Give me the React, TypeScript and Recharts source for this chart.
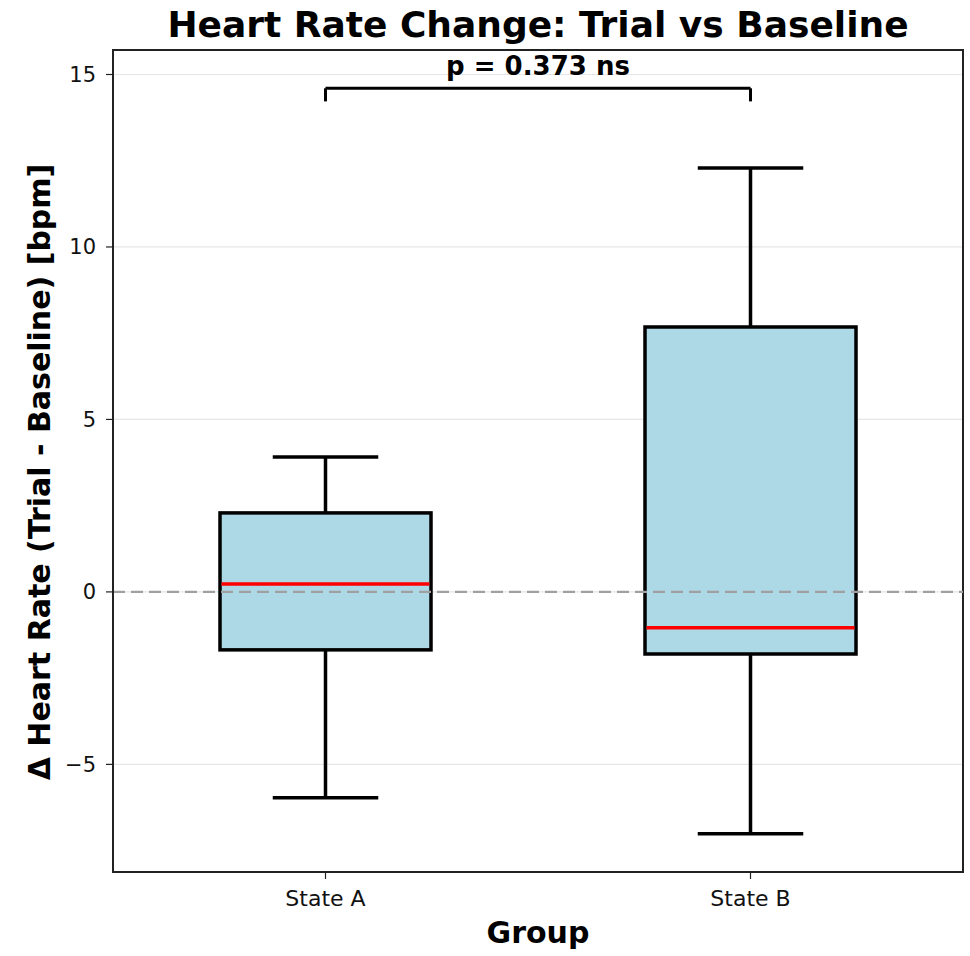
import {
  Bar,
  CartesianGrid,
  ComposedChart,
  ReferenceArea,
  ReferenceLine,
  XAxis,
  YAxis,
} from "recharts";

const groups = ["State A", "State B"];
const whiskerLow = [-5.97, -7.01];
const q1 = [-1.68, -1.8];
const medians = [0.23, -1.04];
const q3 = [2.29, 7.68];
const whiskerHigh = [3.91, 12.29];

const yTicks = [-5, 0, 5, 10, 15];
const yDomain: [number, number] = [-8.12, 15.71];
const bracketY = 14.6;
const bracketDrop = 0.38;
const pLabel = "p = 0.373 ns";

const boxData = groups.map((g, i) => ({
  group: g,
  range: [whiskerLow[i], whiskerHigh[i]],
  low: whiskerLow[i],
  q1: q1[i],
  median: medians[i],
  q3: q3[i],
  high: whiskerHigh[i],
}));

const font = "'DejaVu Sans', sans-serif";

const BoxShape = (props: any) => {
  const { x, y, width, height, payload } = props;
  const { low, q1, median, q3, high } = payload;
  const k = height / (high - low);
  const py = (v: number) => y + (high - v) * k;
  const cx = x + width / 2;
  const capHalf = width / 4;
  const sw = 3.5;
  return (
    <g>
      <line x1={cx} x2={cx} y1={py(high)} y2={py(q3)} stroke="#000" strokeWidth={sw} />
      <line x1={cx} x2={cx} y1={py(q1)} y2={py(low)} stroke="#000" strokeWidth={sw} />
      <line x1={cx - capHalf} x2={cx + capHalf} y1={py(high)} y2={py(high)} stroke="#000" strokeWidth={sw} />
      <line x1={cx - capHalf} x2={cx + capHalf} y1={py(low)} y2={py(low)} stroke="#000" strokeWidth={sw} />
      <rect
        x={x}
        y={py(q3)}
        width={width}
        height={py(q1) - py(q3)}
        fill="#add8e6"
        stroke="#000"
        strokeWidth={sw}
      />
      <line x1={x + 1.5} x2={x + width - 1.5} y1={py(median)} y2={py(median)} stroke="#ff0000" strokeWidth={sw} />
    </g>
  );
};

const fmt = (v: number) => (v < 0 ? `\u2212${Math.abs(v)}` : `${v}`);

const YLabel = () => (
  <text
    x={39}
    y={472}
    transform="rotate(-90 39 472)"
    textAnchor="middle"
    dominantBaseline="central"
    fill="#000"
    fontSize={30}
    fontWeight="bold"
    fontFamily={font}
  >
    {"\u0394 Heart Rate (Trial - Baseline) [bpm]"}
  </text>
);

const XLabel = () => (
  <text
    x={538}
    y={943}
    textAnchor="middle"
    fill="#000"
    fontSize={30}
    fontWeight="bold"
    fontFamily={font}
  >
    Group
  </text>
);

export default function App() {
  return (
    <div
      style={{
        position: "fixed",
        left: 0,
        top: 0,
        width: 970,
        height: 956,
        background: "#fff",
        fontFamily: font,
      }}
    >
      <div
        style={{
          position: "absolute",
          left: 113,
          width: 850,
          top: 7,
          lineHeight: 1,
          textAlign: "center",
          fontSize: 36,
          fontWeight: "bold",
          color: "#000",
        }}
      >
        Heart Rate Change: Trial vs Baseline
      </div>
      <ComposedChart
        width={970}
        height={956}
        data={boxData}
        margin={{ top: 50, right: 7, bottom: 0, left: 0 }}
        barCategoryGap={0}
      >
        <CartesianGrid vertical={false} stroke="#e6e6e6" strokeWidth={1.2} />
        <XAxis
          dataKey="group"
          height={84}
          stroke="#222"
          strokeWidth={2}
          tickSize={7}
          tickMargin={11}
          tickLine={{ stroke: "#222", strokeWidth: 1.2 }}
          tick={{ fill: "#111", fontSize: 22, fontFamily: font }}
          label={<XLabel />}
        />
        <YAxis
          width={113}
          domain={yDomain}
          ticks={yTicks}
          tickFormatter={fmt}
          stroke="#222"
          strokeWidth={2}
          tickSize={7}
          tickMargin={10}
          tickLine={{ stroke: "#222", strokeWidth: 1.2 }}
          tick={{ fill: "#111", fontSize: 21, fontFamily: font }}
          allowDataOverflow
          label={<YLabel />}
        />
        <Bar dataKey="range" barSize={211} shape={BoxShape} isAnimationActive={false} />
        <ReferenceLine y={0} stroke="#a0a0a0" strokeWidth={2.2} strokeDasharray="12 6" />
        <ReferenceLine
          segment={[
            { x: groups[0], y: bracketY },
            { x: groups[1], y: bracketY },
          ]}
          stroke="#000"
          strokeWidth={3}
          label={{
            value: pLabel,
            position: "top",
            offset: 13,
            fill: "#000",
            fontSize: 26,
            fontWeight: "bold",
            fontFamily: font,
          }}
        />
        <ReferenceLine
          segment={[
            { x: groups[0], y: bracketY },
            { x: groups[0], y: bracketY - bracketDrop },
          ]}
          stroke="#000"
          strokeWidth={3}
        />
        <ReferenceLine
          segment={[
            { x: groups[1], y: bracketY },
            { x: groups[1], y: bracketY - bracketDrop },
          ]}
          stroke="#000"
          strokeWidth={3}
        />
        <ReferenceArea y1={yDomain[0]} y2={yDomain[1]} fill="none" stroke="#222" strokeWidth={2} />
      </ComposedChart>
    </div>
  );
}
